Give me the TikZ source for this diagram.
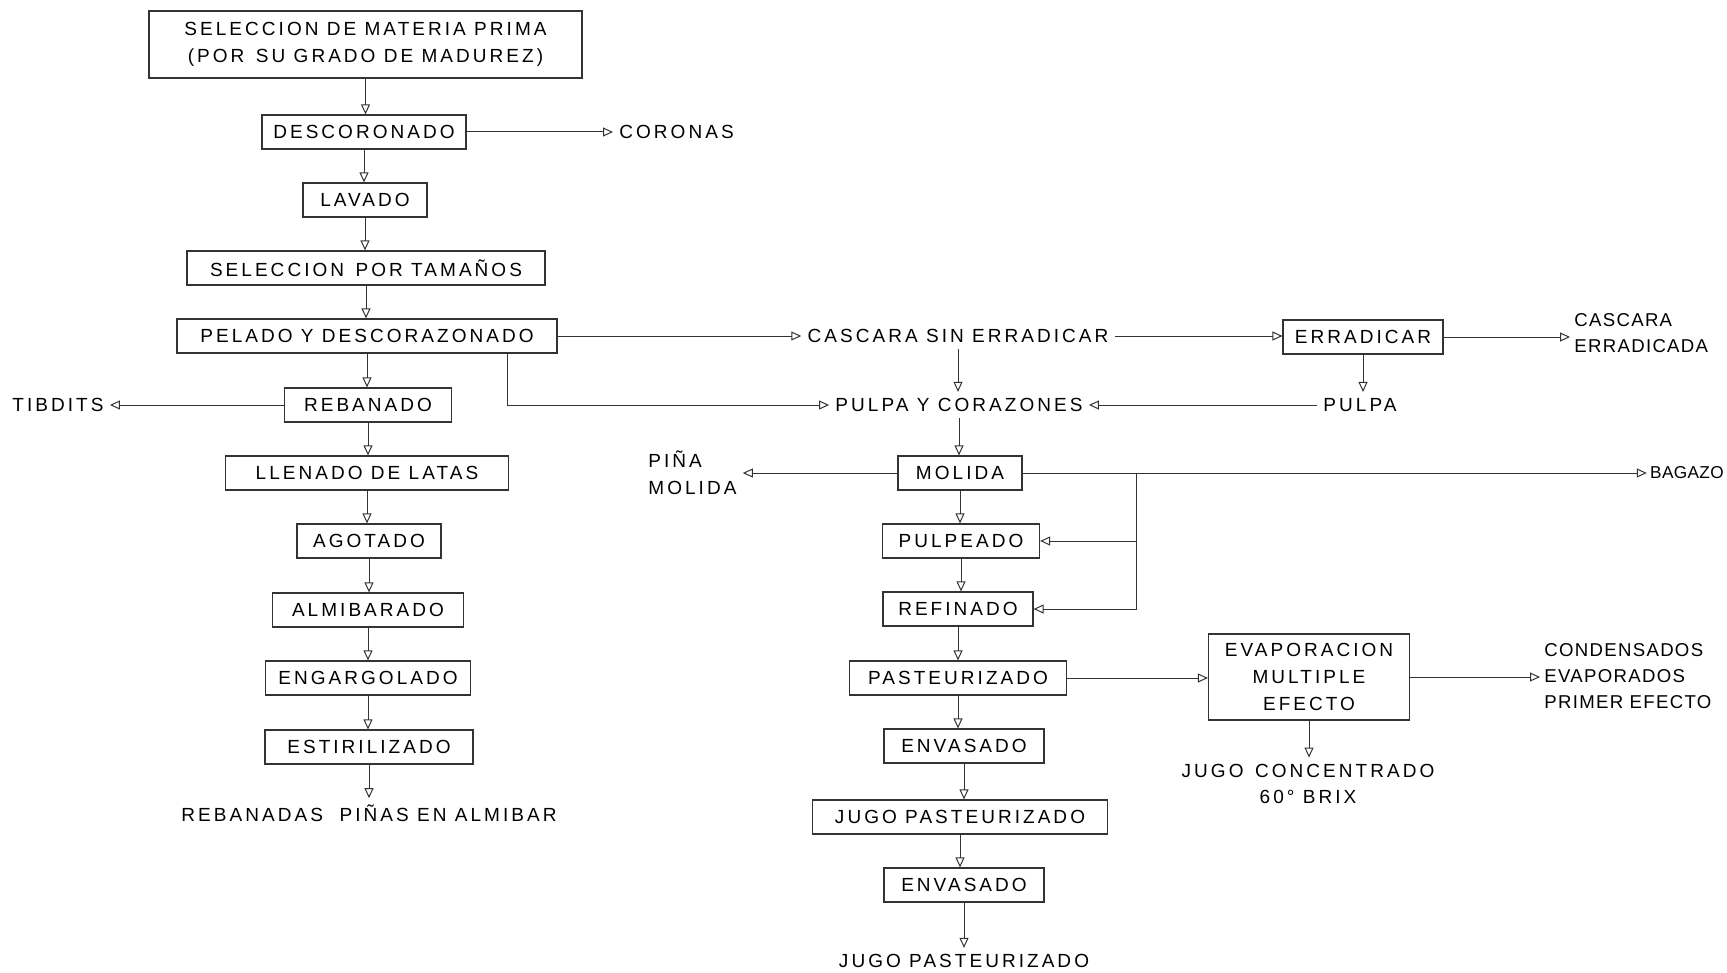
\documentclass[tikz,border=0pt]{standalone}
\usepackage{fontspec}
\newfontfamily\lett{Liberation Sans}[LetterSpace=16]
\newfontfamily\lettn{Liberation Sans}[LetterSpace=7]
\newfontfamily\lettz{Liberation Sans}[LetterSpace=2]
\usetikzlibrary{arrows.meta}
\begin{document}
\begin{tikzpicture}[x=0.5pt,y=-0.5pt,
  font=\lett\fontsize{9.5}{13.3}\selectfont,
  box/.style={draw=black!80,line width=0.6pt,minimum height=17pt,inner sep=2pt},
  lbl/.style={inner sep=3pt},
  rlbl/.style={inner sep=2pt,font=\lettn\fontsize{9.3}{12.8}\selectfont},
  arr/.style={draw=black!80,line width=0.5pt,-{Triangle[open,length=5pt,width=4.5pt]}},
  ln/.style={draw=black!80,line width=0.5pt}]
\useasboundingbox (0,0) rectangle (1727,973);
% left column
\node[box,minimum width=216.5pt,minimum height=33.5pt,align=center] (sel) at (365.5,44.5) {SELECCION DE MATERIA PRIMA\\(POR \,SU GRADO DE MADUREZ)};
\node[box,minimum width=102pt] (desc) at (364,132) {DESCORONADO};
\node[lbl,anchor=west] (cor) at (613,132) {CORONAS};
\node[box,minimum width=62pt] (lav) at (365,200) {LAVADO};
\node[box,minimum width=179pt] (tam) at (366,268) {SELECCION \,POR TAMAÑOS};
\node[box,minimum width=190pt] (pel) at (367,336) {PELADO Y DESCORAZONADO};
\node[box,minimum width=83.5pt] (reb) at (368,405) {REBANADO};
\node[lbl] (tib) at (58,405) {TIBDITS};
\node[box,minimum width=141.5pt] (lle) at (367,473) {LLENADO DE LATAS};
\node[box,minimum width=72pt] (ago) at (369,541) {AGOTADO};
\node[box,minimum width=95.5pt] (alm) at (368,610) {ALMIBARADO};
\node[box,minimum width=102.5pt] (eng) at (368,678) {ENGARGOLADO};
\node[box,minimum width=104pt] (est) at (369,747) {ESTIRILIZADO};
\node[lbl] (rpa) at (369,813) {REBANADAS \ PIÑAS EN ALMIBAR};
% right part
\node[lbl] (csin) at (958,336) {CASCARA SIN ERRADICAR};
\node[box,minimum width=80pt] (err) at (1363,337) {ERRADICAR};
\node[rlbl,align=left,anchor=west] (cerr) at (1570,333) {CASCARA\\ERRADICADA};
\node[lbl] (pulpa) at (1360,405) {PULPA};
\node[lbl] (pyc) at (959,405) {PULPA Y CORAZONES};
\node[box,minimum width=62pt] (mol) at (960,473) {MOLIDA};
\node[lbl,align=left,anchor=west] (pmol) at (642,473) {PIÑA\\MOLIDA};
\node[inner sep=1.5pt,anchor=east,font=\lettz\fontsize{8.6}{12}\selectfont] (bag) at (1727,473) {BAGAZO};
\node[box,minimum width=78.5pt] (pulp) at (961,541) {PULPEADO};
\node[box,minimum width=75pt] (ref) at (958,609) {REFINADO};
\node[box,minimum width=108.5pt] (pas) at (958,678) {PASTEURIZADO};
\node[box,minimum width=100.5pt,minimum height=43pt,align=center] (evap) at (1309,677) {EVAPORACION\\MULTIPLE\\EFECTO};
\node[rlbl,align=left,anchor=west] (cond) at (1540,676) {CONDENSADOS\\EVAPORADOS\\PRIMER EFECTO};
\node[lbl,align=center] (jconc) at (1308,784) {JUGO \,CONCENTRADO\\60° BRIX};
\node[box,minimum width=80pt] (env1) at (964,746) {ENVASADO};
\node[box,minimum width=147.5pt] (jpb) at (960,817) {JUGO PASTEURIZADO};
\node[box,minimum width=80pt] (env2) at (964,885) {ENVASADO};
\node[lbl] (jpt) at (964,961) {JUGO PASTEURIZADO};
\coordinate (pbx) at (507,0);
\coordinate (jn) at (1136,473);
% vertical flows
\foreach \a/\b in {sel/desc,desc/lav,lav/tam,tam/pel,pel/reb,reb/lle,lle/ago,ago/alm,alm/eng,eng/est,est/rpa,
  csin/pyc,pyc/mol,mol/pulp,pulp/ref,ref/pas,pas/env1,env1/jpb,jpb/env2,env2/jpt,err/pulpa,evap/jconc}
  \draw[arr] (\a.south) -- (\a.south |- \b.north);
% horizontal flows
\draw[arr] (desc.east) -- (cor.west);
\draw[arr] (pel.east) -- (pel.east -| csin.west);
\draw[arr] (csin.east) -- (csin.east -| err.west);
\draw[arr] (err.east) -- (err.east -| cerr.west);
\draw[arr] (pulpa.west) -- (pulpa.west -| pyc.east);
\draw[arr] (reb.west) -- (reb.west -| tib.east);
\draw[arr] (mol.west) -- (mol.west -| pmol.east);
\draw[arr] (mol.east) -- (mol.east -| bag.west);
\draw[arr] (pas.east) -- (pas.east -| evap.west);
\draw[arr] (evap.east) -- (evap.east -| cond.west);
\draw[arr] (pel.south -| pbx) |- (pyc.west);
\draw[arr] (jn) |- (pulp.east);
\draw[arr] (jn) |- (ref.east);
\end{tikzpicture}
\end{document}
